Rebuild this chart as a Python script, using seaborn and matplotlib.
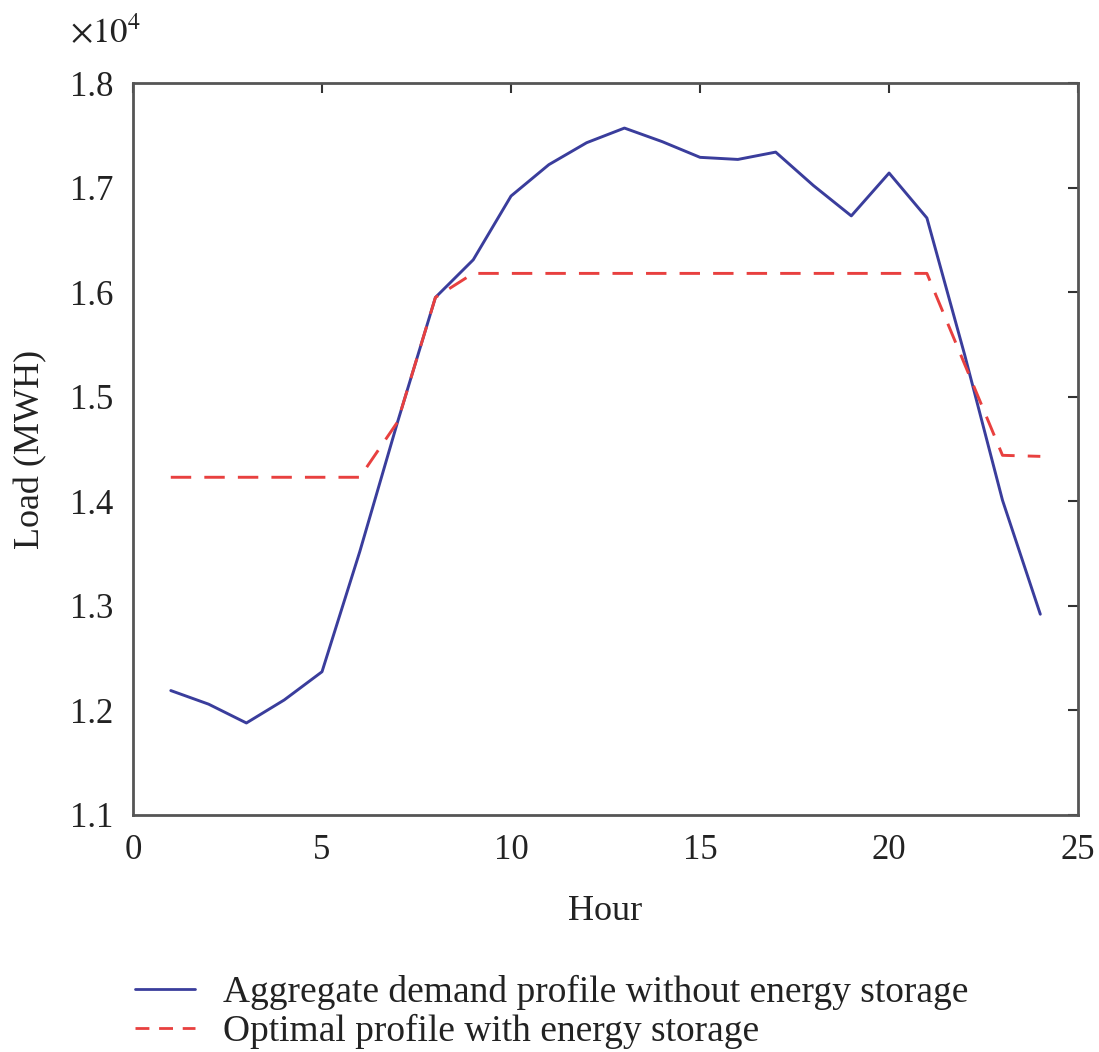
import matplotlib
matplotlib.use("Agg")
import matplotlib.pyplot as plt
import seaborn as sns
import pandas as pd
import numpy as np
from matplotlib.lines import Line2D

hours = list(range(1, 25))
demand = [12190, 12060, 11880, 12100, 12370, 13520, 14760, 15950, 16310, 16920,
          17220, 17430, 17570, 17440, 17290, 17270, 17340, 17020, 16730, 17140,
          16710, 15400, 14010, 12920]
optimal = [14230, 14230, 14230, 14230, 14230, 14230, 14760, 15950, 16180, 16180,
           16180, 16180, 16180, 16180, 16180, 16180, 16180, 16180, 16180, 16180,
           16180, 15310, 14440, 14430]
label_demand = "Aggregate demand profile without energy storage"
label_optimal = "Optimal profile with energy storage"

sns.set_theme(style="white")
plt.rcParams['font.family'] = ['Liberation Serif', 'DejaVu Serif']
plt.rcParams['mathtext.fontset'] = 'stix'

df = pd.DataFrame({"Hour": hours + hours,
                   "Load": demand + optimal,
                   "series": [label_demand] * 24 + [label_optimal] * 24})

blue = "#3a3d9c"
red = "#e8403f"
dash = (7, 4.5)

fig = plt.figure(figsize=(10.99, 10.52), dpi=100)
ax = fig.add_axes([0.121, 0.2253, 0.860, 0.6957])

sns.lineplot(data=df, x="Hour", y="Load", hue="series", style="series",
             palette={label_demand: blue, label_optimal: red},
             dashes={label_demand: "", label_optimal: dash},
             linewidth=2.1, ax=ax, legend=False)

ax.set_xlim(0, 25)
ax.set_ylim(11000, 18000)
ax.set_xticks([0, 5, 10, 15, 20, 25])
yt = np.arange(11000, 18001, 1000)
ax.set_yticks(yt)
ax.set_yticklabels([f"{v/1e4:.1f}" for v in yt])
ax.tick_params(direction="in", length=7, width=1.5, top=True, right=True,
               labelsize=25, pad=14, colors="#333333", labelcolor="#222222")
for s in ax.spines.values():
    s.set_color("#555555")
    s.set_linewidth(2)
ax.set_xlabel("Hour", fontsize=26, color="#222222", labelpad=20)
ax.set_ylabel("Load (MWH)", fontsize=26, color="#222222", labelpad=16)

fig.text(0.064, 0.968, r"$\times10^{4}$", fontsize=25, color="#222222",
         ha="left", va="center")

handles = [Line2D([], [], color=blue, lw=2),
           Line2D([], [], color=red, lw=2, ls=(0, (5, 3.5)))]
fig.legend(handles, [label_demand, label_optimal], loc="upper left",
           bbox_to_anchor=(0.092, 0.105), frameon=False, fontsize=27,
           handlelength=1.6, handletextpad=0.75, labelspacing=0.1,
           labelcolor="#222222")

fig.savefig("out.png", dpi=100)
